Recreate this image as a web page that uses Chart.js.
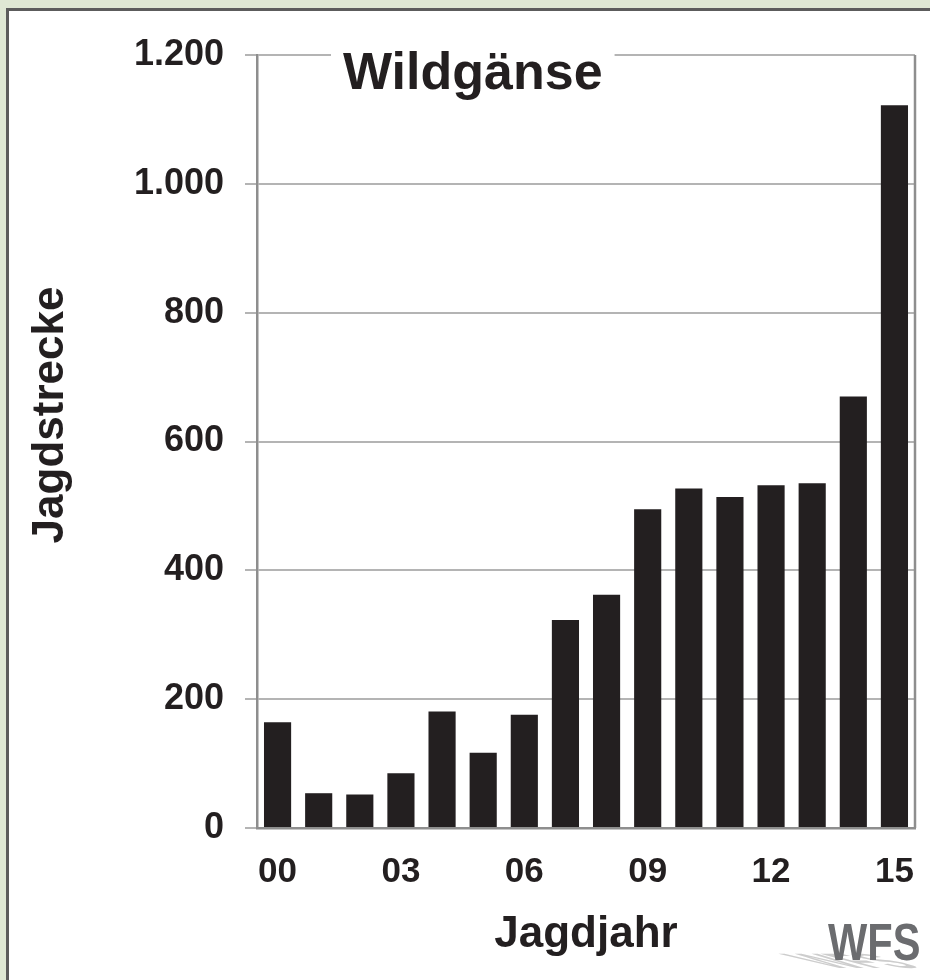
<!DOCTYPE html>
<html>
<head>
<meta charset="utf-8">
<script src="https://cdn.jsdelivr.net/npm/chart.js@4/dist/chart.umd.min.js"></script>
<style>
  html, body { margin: 0; padding: 0; }
  body { width: 930px; height: 980px; background: #dfe8d4; position: relative; overflow: hidden; }
  #panel { position: absolute; left: 6px; top: 8px; right: 0; bottom: 0; background: #fff;
           border-left: 3px solid #5c5c5c; border-top: 3px solid #5c5c5c; }
  #wrap { position: absolute; left: 0; top: 0; width: 930px; height: 980px; }
</style>
</head>
<body>
<div id="panel"></div>
<div id="wrap"><canvas id="gaenseChart" width="930" height="980"></canvas></div>
<script>
const jagdjahre = ['00', '01', '02', '03', '04', '05', '06', '07', '08', '09', '10', '11', '12', '13', '14', '15'];
const strecke = [164, 54, 52, 85, 181, 117, 176, 323, 362, 495, 527, 514, 532, 535, 670, 1122];
const yTicks = [0, 200, 400, 600, 800, 1000, 1200];
const chartTitle = 'Wildgänse';
const yTitle = 'Jagdstrecke';
const xTitle = 'Jagdjahr';
const logoText = 'WFS';

const FONT = '"Liberation Sans", Arial, sans-serif';
const GRID = '#b4b4b4';
const AXIS = '#8e8e8e';

// tausender mit punkt (1.200)
function deNumber(v) {
  return String(v).replace(/\B(?=(\d{3})+(?!\d))/g, '.');
}

// titel im rahmen, y-achsentitel, rechter rahmen und logo
const extrasPlugin = {
  id: 'extras',
  afterDraw(chart) {
    const ctx = chart.ctx;
    const area = chart.chartArea;
    ctx.save();

    // rechter rahmen
    ctx.strokeStyle = AXIS;
    ctx.lineWidth = 2.5;
    ctx.beginPath();
    ctx.moveTo(area.right, area.top);
    ctx.lineTo(area.right, area.bottom);
    ctx.stroke();

    // titel mit weissem hintergrund ueber der oberen linie
    ctx.font = 'bold 52px ' + FONT;
    const tw = ctx.measureText(chartTitle).width;
    const tx = 343;
    ctx.fillStyle = '#fff';
    ctx.fillRect(tx - 12, area.top - 6, tw + 24, 12);
    ctx.fillStyle = '#231f20';
    ctx.textBaseline = 'alphabetic';
    ctx.textAlign = 'left';
    ctx.fillText(chartTitle, tx, 89);

    // y-achsentitel
    ctx.save();
    ctx.translate(51, 415);
    ctx.rotate(-Math.PI / 2);
    ctx.font = 'bold 44px ' + FONT;
    ctx.textAlign = 'center';
    ctx.textBaseline = 'middle';
    ctx.fillText(yTitle, 0, 0);
    ctx.restore();

    // logo mit schraegem schatten nach links unten
    ctx.save();
    ctx.font = 'bold 52px ' + FONT;
    ctx.textAlign = 'left';
    ctx.textBaseline = 'alphabetic';
    ctx.translate(828, 960);
    ctx.save();
    ctx.translate(4, 8);
    ctx.transform(0.8, 0, 1.5, 0.4, 0, 0);
    ctx.fillStyle = '#cdcdcd';
    ctx.fillText(logoText, 0, 0);
    ctx.restore();
    ctx.scale(0.8, 1);
    ctx.fillStyle = '#6b6c6f';
    ctx.fillText(logoText, 0, 0);
    ctx.restore();

    ctx.restore();
  }
};

const ctx = document.getElementById('gaenseChart');

new Chart(ctx, {
  type: 'bar',
  data: {
    labels: jagdjahre,
    datasets: [{
      label: 'Jagdstrecke',
      data: strecke,
      backgroundColor: '#231f20',
      borderWidth: 0,
      barPercentage: 0.66,
      categoryPercentage: 1
    }]
  },
  options: {
    responsive: false,
    animation: false,
    layout: { padding: { left: 0, right: 15, top: 55, bottom: 0 } },
    plugins: {
      legend: { display: false },
      tooltip: { enabled: false },
      title: { display: false }
    },
    scales: {
      x: {
        afterFit(scale) {
          scale.height = 152;
          scale.paddingLeft = 0;
          scale.paddingRight = 0;
        },
        grid: { display: false, drawTicks: false },
        border: { display: true, color: AXIS, width: 2.5 },
        ticks: {
          autoSkip: false,
          maxRotation: 0,
          padding: 23,
          color: '#231f20',
          font: { family: FONT, size: 35, weight: 'bold' },
          callback: function (value, index) {
            return index % 3 === 0 ? this.getLabelForValue(value) : '';
          }
        },
        title: {
          display: true,
          text: xTitle,
          color: '#231f20',
          font: { family: FONT, size: 44, weight: 'bold' },
          padding: { top: 0, bottom: 19 }
        }
      },
      y: {
        min: yTicks[0],
        max: yTicks[yTicks.length - 1],
        afterFit(scale) {
          scale.width = 257;
          scale.paddingTop = 0;
          scale.paddingBottom = 0;
        },
        afterBuildTicks(scale) { scale.ticks = yTicks.map(v => ({ value: v })); },
        grid: { color: GRID, lineWidth: 2, tickLength: 12, tickColor: GRID },
        border: { display: true, color: AXIS, width: 2.5 },
        ticks: {
          padding: 21,
          color: '#231f20',
          font: { family: FONT, size: 36, weight: 'bold' },
          callback: v => deNumber(v)
        }
      }
    }
  },
  plugins: [extrasPlugin]
});
</script>
</body>
</html>
